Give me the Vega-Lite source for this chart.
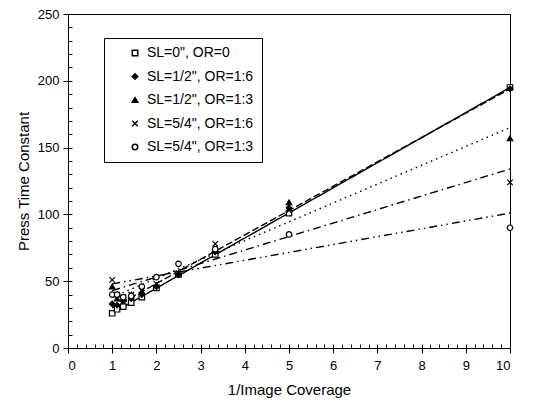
{
  "$schema": "https://vega.github.io/schema/vega-lite/v6.json",
  "width": 442,
  "height": 334,
  "autosize": {"type": "none"},
  "padding": {"left": 68, "top": 14, "right": 48, "bottom": 67},
  "config": {
    "view": {"stroke": "black", "strokeWidth": 1},
    "font": "Liberation Sans",
    "axis": {"domainColor": "black", "tickColor": "black", "labelColor": "black", "titleColor": "black", "grid": false, "labelFontSize": 13, "titleFontSize": 15, "titleFontWeight": "normal", "labelFont": "Liberation Sans", "titleFont": "Liberation Sans"}
  },
  "datasets": {
    "pts": [
      {"x": 1, "y": 26, "series": "SL=0\", OR=0"},
      {"x": 1.11, "y": 29, "series": "SL=0\", OR=0"},
      {"x": 1.25, "y": 31, "series": "SL=0\", OR=0"},
      {"x": 1.43, "y": 34, "series": "SL=0\", OR=0"},
      {"x": 1.67, "y": 38, "series": "SL=0\", OR=0"},
      {"x": 2, "y": 45, "series": "SL=0\", OR=0"},
      {"x": 2.5, "y": 55, "series": "SL=0\", OR=0"},
      {"x": 3.33, "y": 70, "series": "SL=0\", OR=0"},
      {"x": 5, "y": 101, "series": "SL=0\", OR=0"},
      {"x": 10, "y": 195, "series": "SL=0\", OR=0"},
      {"x": 1, "y": 33, "series": "SL=1/2\", OR=1:6"},
      {"x": 1.11, "y": 32, "series": "SL=1/2\", OR=1:6"},
      {"x": 1.25, "y": 35, "series": "SL=1/2\", OR=1:6"},
      {"x": 1.43, "y": 37, "series": "SL=1/2\", OR=1:6"},
      {"x": 1.67, "y": 40, "series": "SL=1/2\", OR=1:6"},
      {"x": 2, "y": 46, "series": "SL=1/2\", OR=1:6"},
      {"x": 2.5, "y": 55, "series": "SL=1/2\", OR=1:6"},
      {"x": 3.33, "y": 72, "series": "SL=1/2\", OR=1:6"},
      {"x": 5, "y": 105, "series": "SL=1/2\", OR=1:6"},
      {"x": 10, "y": 194, "series": "SL=1/2\", OR=1:6"},
      {"x": 1, "y": 46, "series": "SL=1/2\", OR=1:3"},
      {"x": 1.11, "y": 37, "series": "SL=1/2\", OR=1:3"},
      {"x": 1.25, "y": 37, "series": "SL=1/2\", OR=1:3"},
      {"x": 1.43, "y": 40, "series": "SL=1/2\", OR=1:3"},
      {"x": 1.67, "y": 42, "series": "SL=1/2\", OR=1:3"},
      {"x": 2, "y": 47, "series": "SL=1/2\", OR=1:3"},
      {"x": 2.5, "y": 56, "series": "SL=1/2\", OR=1:3"},
      {"x": 3.33, "y": 73, "series": "SL=1/2\", OR=1:3"},
      {"x": 5, "y": 109, "series": "SL=1/2\", OR=1:3"},
      {"x": 10, "y": 157, "series": "SL=1/2\", OR=1:3"},
      {"x": 1, "y": 51, "series": "SL=5/4\", OR=1:6"},
      {"x": 1.11, "y": 40, "series": "SL=5/4\", OR=1:6"},
      {"x": 1.25, "y": 38, "series": "SL=5/4\", OR=1:6"},
      {"x": 1.43, "y": 40, "series": "SL=5/4\", OR=1:6"},
      {"x": 1.67, "y": 43, "series": "SL=5/4\", OR=1:6"},
      {"x": 2, "y": 48, "series": "SL=5/4\", OR=1:6"},
      {"x": 2.5, "y": 56, "series": "SL=5/4\", OR=1:6"},
      {"x": 3.33, "y": 78, "series": "SL=5/4\", OR=1:6"},
      {"x": 5, "y": 103, "series": "SL=5/4\", OR=1:6"},
      {"x": 10, "y": 124, "series": "SL=5/4\", OR=1:6"},
      {"x": 1, "y": 40, "series": "SL=5/4\", OR=1:3"},
      {"x": 1.11, "y": 40, "series": "SL=5/4\", OR=1:3"},
      {"x": 1.25, "y": 38, "series": "SL=5/4\", OR=1:3"},
      {"x": 1.43, "y": 39, "series": "SL=5/4\", OR=1:3"},
      {"x": 1.67, "y": 46, "series": "SL=5/4\", OR=1:3"},
      {"x": 2, "y": 53, "series": "SL=5/4\", OR=1:3"},
      {"x": 2.5, "y": 63, "series": "SL=5/4\", OR=1:3"},
      {"x": 3.33, "y": 74, "series": "SL=5/4\", OR=1:3"},
      {"x": 5, "y": 85, "series": "SL=5/4\", OR=1:3"},
      {"x": 10, "y": 90, "series": "SL=5/4\", OR=1:3"}
    ],
    "fits": [
      {"x": 1, "y": 26, "fit": "SL=0\", OR=0"},
      {"x": 10, "y": 195, "fit": "SL=0\", OR=0"},
      {"x": 1, "y": 30, "fit": "SL=1/2\", OR=1:6"},
      {"x": 10, "y": 194, "fit": "SL=1/2\", OR=1:6"},
      {"x": 1, "y": 38, "fit": "SL=1/2\", OR=1:3"},
      {"x": 10, "y": 165, "fit": "SL=1/2\", OR=1:3"},
      {"x": 1, "y": 43, "fit": "SL=5/4\", OR=1:6"},
      {"x": 10, "y": 134, "fit": "SL=5/4\", OR=1:6"},
      {"x": 1, "y": 48, "fit": "SL=5/4\", OR=1:3"},
      {"x": 10, "y": 101, "fit": "SL=5/4\", OR=1:3"}
    ]
  },
  "resolve": {"axis": {"x": "independent", "y": "independent"}},
  "layer": [
    {
      "data": {"name": "fits"},
      "mark": {"type": "line", "color": "black", "strokeWidth": 1.4},
      "encoding": {
        "x": {"field": "x", "type": "quantitative", "scale": {"domain": [0, 10], "nice": false},
          "axis": {"title": "1/Image Coverage", "values": [0,1,2,3,4,5,6,7,8,9,10], "tickSize": 5, "labelPadding": 6, "titlePadding": 10, "orient": "bottom"}},
        "y": {"field": "y", "type": "quantitative", "scale": {"domain": [0, 250], "nice": false},
          "axis": {"title": "Press Time Constant", "values": [0,50,100,150,200,250], "tickSize": 5, "labelPadding": 4, "titlePadding": 6, "orient": "left"}},
        "strokeWidth": {"field": "fit", "type": "nominal",
          "scale": {"range": [2, 1.3, 1.3, 1.3, 1.3]},
          "legend": null},
        "strokeDash": {"field": "fit", "type": "nominal",
          "scale": {"range": [[1, 0], [1.5, 4], [7, 3], [8, 4, 1.5, 4, 1.5, 4], [8, 4, 1.5, 4]]},
          "legend": null}
      }
    },
    {
      "data": {"name": "pts"},
      "mark": {"type": "point", "filled": true, "stroke": "black", "strokeWidth": 1.2, "size": 30, "opacity": 1},
      "encoding": {
        "x": {"field": "x", "type": "quantitative", "scale": {"domain": [0, 10], "nice": false},
          "axis": {"orient": "bottom", "title": null, "labels": false, "domain": false, "tickSize": -4,
            "values": [0,0.2,0.4,0.6,0.8,1,1.2,1.4,1.6,1.8,2,2.2,2.4,2.6,2.8,3,3.2,3.4,3.6,3.8,4,4.2,4.4,4.6,4.8,5,5.2,5.4,5.6,5.8,6,6.2,6.4,6.6,6.8,7,7.2,7.4,7.6,7.8,8,8.2,8.4,8.6,8.8,9,9.2,9.4,9.6,9.8,10]}},
        "y": {"field": "y", "type": "quantitative", "scale": {"domain": [0, 250], "nice": false},
          "axis": {"orient": "left", "title": null, "labels": false, "domain": false, "tickSize": -4,
            "values": [0,10,20,30,40,50,60,70,80,90,100,110,120,130,140,150,160,170,180,190,200,210,220,230,240,250]}},
        "shape": {"field": "series", "type": "nominal",
          "scale": {"domain": ["SL=0\", OR=0", "SL=1/2\", OR=1:6", "SL=1/2\", OR=1:3", "SL=5/4\", OR=1:6", "SL=5/4\", OR=1:3"],
            "range": ["square", "diamond", "triangle-up", "M-1,-1L1,1M-1,1L1,-1", "circle"]},
          "legend": {"title": null, "orient": "none", "legendX": 36, "legendY": 24, "strokeColor": "black", "padding": 8, "fillColor": "white",
            "labelFontSize": 14, "labelFont": "Liberation Sans", "labelColor": "black", "rowPadding": 9.5, "symbolSize": 30, "symbolOffset": 16, "symbolOpacity": 1, "labelOffset": 5,
            "encode": {"symbols": {"update": {"stroke": {"value": "black"}, "strokeWidth": {"value": 1.2}}}}}},
        "fill": {"field": "series", "type": "nominal",
          "scale": {"domain": ["SL=0\", OR=0", "SL=1/2\", OR=1:6", "SL=1/2\", OR=1:3", "SL=5/4\", OR=1:6", "SL=5/4\", OR=1:3"],
            "range": ["white", "black", "black", "black", "white"]},
          "legend": {"title": null, "orient": "none", "legendX": 36, "legendY": 24, "strokeColor": "black", "padding": 8, "fillColor": "white",
            "labelFontSize": 14, "labelFont": "Liberation Sans", "labelColor": "black", "rowPadding": 9.5, "symbolSize": 30, "symbolOffset": 16, "symbolOpacity": 1, "labelOffset": 5,
            "encode": {"symbols": {"update": {"stroke": {"value": "black"}, "strokeWidth": {"value": 1.2}}}}}}
      }
    }
  ]
}
